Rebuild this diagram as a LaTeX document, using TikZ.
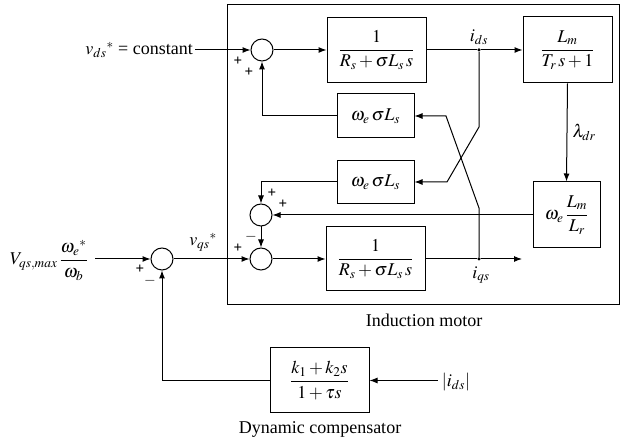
\documentclass[tikz,border=0pt]{standalone}
\usepackage{amsmath}
\usepackage{mathptmx}
\usepackage{fontspec}
\setmainfont{Liberation Serif}
\usetikzlibrary{arrows.meta}
\begin{document}
\tikzset{
 blk/.style={draw, line width=1pt, inner sep=0pt, font=\fontsize{18}{20}\selectfont},
 sumc/.style={draw, circle, line width=1pt, minimum size=22pt, inner sep=0pt},
 conn/.style={line width=1pt},
 arr/.style={conn, -{Latex[length=8pt,width=6pt]}},
 sgn/.style={font=\fontsize{15}{15}\selectfont\bfseries, inner sep=0pt},
 lbl/.style={font=\fontsize{18}{20}\selectfont, inner sep=0pt},
 dot/.style={circle, fill, inner sep=0pt, minimum size=3.5pt}
}
\begin{tikzpicture}[x=1pt,y=-1pt]
\useasboundingbox (0,0) rectangle (625,443);
% frame
\node[draw, line width=1pt, minimum width=392pt, minimum height=300pt, inner sep=0pt] (motor) at (423,155) {};
\node[lbl] (motorlbl) at (424,320) {Induction motor};
% summing junctions
\node[sumc] (s1) at (262,50) {};
\node[sumc] (s2) at (261,215) {};
\node[sumc] (s3) at (261,259) {};
\node[sumc] (s4) at (162,259) {};
% blocks
\node[blk, minimum width=99pt, minimum height=65pt] (A) at (376.5,50) {$\dfrac{1}{R_s+\sigma L_s\, s}$};
\node[blk, minimum width=99pt, minimum height=64pt] (B) at (375.5,259) {$\dfrac{1}{R_s+\sigma L_s\, s}$};
\node[blk, minimum width=89pt, minimum height=66pt] (C) at (567.5,50) {$\dfrac{L_m}{T_r\, s+1}$};
\node[blk, minimum width=67pt, minimum height=66pt] (D) at (566.5,215) {$\omega_e\,\dfrac{L_m}{L_r}$};
\node[blk, minimum width=77pt, minimum height=44pt] (WA) at (375.5,116) {$\omega_e\,\sigma L_s$};
\node[blk, minimum width=77pt, minimum height=43pt] (WB) at (375.5,182) {$\omega_e\,\sigma L_s$};
\node[blk, minimum width=99pt, minimum height=65pt] (K) at (319.5,380.5) {$\dfrac{k_1+k_2 s}{1+\tau s}$};
\node[lbl] (Klbl) at (320,429) {Dynamic compensator};
% pick-off points
\node[dot] (ids) at (479,50) {};
\node[dot] (iqs) at (479,259) {};
\coordinate (qout) at (522,259);
% inputs
\node[lbl, anchor=base east] (vds) at (193,55) {$v_{ds}{}^{*}$ = constant};
\node[lbl, anchor=base east] (vqm) at (88,265) {$V_{qs,max}\,\dfrac{\omega_e{}^{*}}{\omega_b}$};
\node[lbl] (idabs) at (456,382) {$\left|i_{ds}\right|$};
% signal labels
\node[lbl] (idslbl) at (479,37) {$i_{ds}$};
\node[lbl] (iqslbl) at (481,275) {$i_{qs}$};
\node[lbl] (vqslbl) at (203,242) {$v_{qs}{}^{*}$};
% connectors
\draw[arr] ([xshift=2pt]vds.east |- s1.west) -- (s1.west);
\draw[arr] (s1.east) -- (A.west);
\draw[conn] (A.east) -- (ids);
\draw[arr] (ids) -- (C.west);
\draw[arr] (C.south) -- (D.north) node[lbl, midway, right=5pt] (lam) {$\lambda_{dr}$};
\draw[arr] (D.west) -- (s2.east);
\draw[arr] (ids) -- (479,127) -- (447,182) -- (WB.east);
\draw[arr] (iqs) -- (479,208) -- (446,116) -- (WA.east);
\draw[arr] (WA.west) -| (s1.south);
\draw[arr] (WB.west) -| (s2.north);
\draw[arr] (s2.south) -- (s3.north);
\draw[arr] (s3.east) -- (B.west);
\draw[conn] (B.east) -- (iqs);
\draw[arr] (iqs) -- (qout);
\draw[arr] ([xshift=7pt]vqm.east |- s4.west) -- (s4.west);
\draw[arr] (s4.east) -- (s3.west);
\draw[arr] (K.west) -| (s4.south);
\draw[arr] ([xshift=-4pt]idabs.west |- K.east) -- (K.east);
% signs
\node[sgn] (p1a) at (238,61) {+};
\node[sgn] (p1b) at (249,72) {+};
\node[sgn] (p2a) at (272,193) {+};
\node[sgn] (p2b) at (283,204) {+};
\node[sgn] (m3a) at (251,237) {$-$};
\node[sgn] (p3b) at (238,248) {+};
\node[sgn] (p4a) at (140,269) {+};
\node[sgn] (m4b) at (150,281) {$-$};
\end{tikzpicture}
\end{document}
